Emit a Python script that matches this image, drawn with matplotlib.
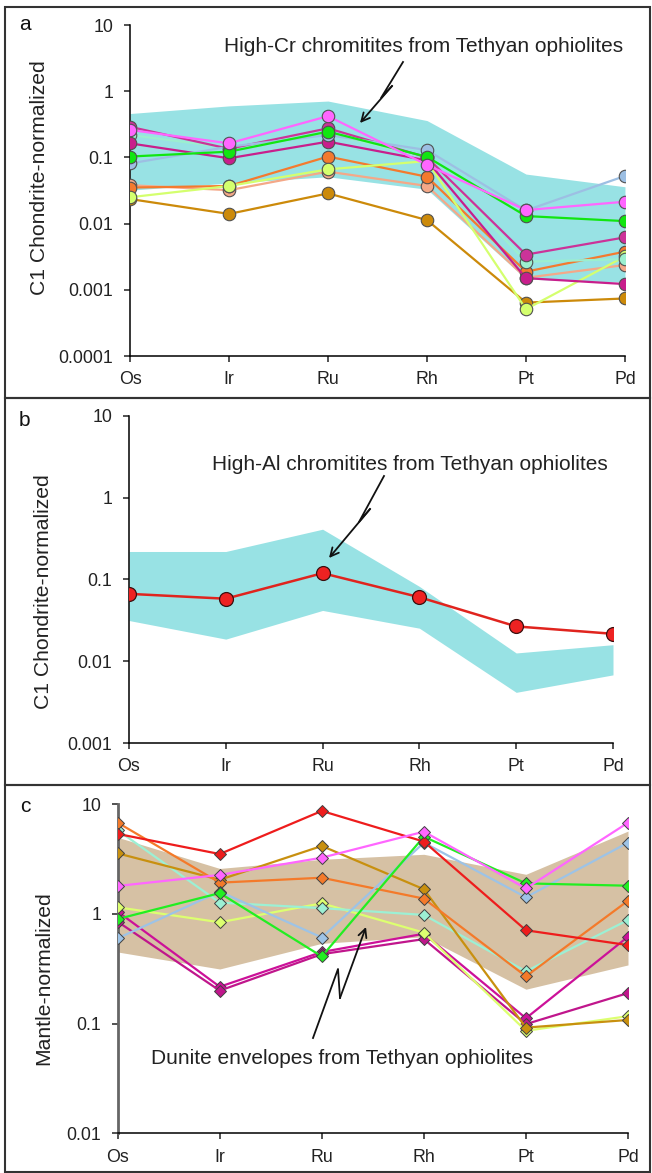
import matplotlib
matplotlib.use("Agg")
import matplotlib.pyplot as plt
from matplotlib.ticker import FixedLocator, NullLocator
from matplotlib.patches import Rectangle

plt.rcParams['font.family'] = ['Liberation Sans', 'DejaVu Sans']

elements = ['Os', 'Ir', 'Ru', 'Rh', 'Pt', 'Pd']

# panel a: high-Cr chromitites (C1 chondrite-normalized)
env_a_top = [0.46, 0.6, 0.71, 0.36, 0.056, 0.036]
env_a_bot = [0.032, 0.041, 0.051, 0.033, 0.00145, 0.0013]
gold_a = [0.0235, 0.014, 0.0286, 0.0113, 0.00064, 0.00074]
salmon_a = [0.038, 0.032, 0.061, 0.037, 0.00152, 0.00237]
orange_a = [0.035, 0.037, 0.103, 0.051, 0.00188, 0.00377]
yg_a = [0.025, 0.037, 0.066, 0.088, 0.00051, 0.0032]
mint_a = [0.218, 0.14, 0.23, 0.1, 0.00266, 0.0029]
magenta2_a = [0.163, 0.097, 0.173, 0.09, 0.0015, 0.00122]
magenta1_a = [0.29, 0.135, 0.275, 0.1, 0.0034, 0.0062]
blue_a = [0.081, 0.145, 0.218, 0.129, 0.0158, 0.0524]
green_a = [0.103, 0.122, 0.245, 0.102, 0.013, 0.0109]
pink_a = [0.26, 0.163, 0.42, 0.077, 0.016, 0.0214]

# panel b: high-Al chromitites
env_b_top = [0.219, 0.219, 0.41, 0.082, 0.0126, 0.0159]
env_b_bot = [0.0314, 0.0186, 0.0417, 0.0253, 0.00416, 0.0068]
red_b = [0.0665, 0.058, 0.119, 0.0605, 0.0266, 0.0216]

# panel c: dunite envelopes (mantle-normalized)
env_c_top = [5.0, 2.6, 3.15, 3.5, 2.3, 5.7]
env_c_bot = [0.45, 0.315, 0.54, 0.62, 0.206, 0.343]
magenta1_c = [1.05, 0.217, 0.45, 0.66, 0.112, 0.62]
magenta2_c = [0.85, 0.2, 0.43, 0.59, 0.099, 0.19]
yg_c = [1.15, 0.84, 1.25, 0.676, 0.086, 0.117]
mint_c = [5.8, 1.27, 1.13, 0.98, 0.3, 0.88]
gold_c = [3.57, 2.05, 4.17, 1.68, 0.092, 0.108]
orange_c = [6.8, 1.93, 2.14, 1.38, 0.27, 1.32]
blue_c = [0.6, 1.6, 0.61, 4.47, 1.42, 4.47]
green_c = [0.9, 1.55, 0.41, 5.07, 1.9, 1.81]
red_c = [5.37, 3.52, 8.7, 4.57, 0.71, 0.52]
pink_c = [1.8, 2.27, 3.26, 5.63, 1.71, 6.8]

ticks_a = [1e-4, 1e-3, 1e-2, 1e-1, 1, 10]
labels_a = ['0.0001', '0.001', '0.01', '0.1', '1', '10']
ticks_b = [1e-3, 1e-2, 1e-1, 1, 10]
labels_b = ['0.001', '0.01', '0.1', '1', '10']
ticks_c = [1e-2, 1e-1, 1, 10]
labels_c = ['0.01', '0.1', '1', '10']

W, H = 652, 1173
fig = plt.figure(figsize=(W / 100, H / 100), dpi=100)
fig.patch.set_facecolor('white')

def px_axes(left, right, top, bottom):
    return fig.add_axes([left / W, 1 - bottom / H, (right - left) / W, (bottom - top) / H])

def style(ax, ticks, labels, ymin):
    ax.set_yscale('log')
    ax.set_ylim(ymin, 10)
    ax.set_xlim(0, 5)
    ax.yaxis.set_major_locator(FixedLocator(ticks))
    ax.yaxis.set_minor_locator(NullLocator())
    ax.set_yticklabels(labels)
    ax.set_xticks(range(len(elements)))
    ax.set_xticklabels(elements)
    ax.spines['top'].set_visible(False)
    ax.spines['right'].set_visible(False)
    ax.spines['left'].set_linewidth(1.1)
    ax.spines['bottom'].set_linewidth(1.1)
    ax.tick_params(axis='y', direction='out', length=4, width=1.1, pad=8, labelsize=12.8, colors='#222')
    ax.tick_params(axis='x', direction='out', length=4, width=1.1, pad=7, labelsize=12.8, colors='#222')
    ax.patch.set_alpha(0)

x = list(range(len(elements)))

# ---- panel a
ax = px_axes(130, 625, 25, 356)
style(ax, ticks_a, labels_a, 1e-4)
ax.fill_between(x, env_a_bot, env_a_top, color='#98e2e4', lw=0, zorder=1)
series_a = [(gold_a, '#cc8a0a'), (salmon_a, '#f4a888'), (orange_a, '#f47a2e'), (yg_a, '#d4ff6e'),
            (mint_a, '#9cefcf'), (magenta2_a, '#c81e8c'), (magenta1_a, '#cc3399'),
            (blue_a, '#9dbfe3'), (green_a, '#11e611'), (pink_a, '#ff66ff')]
for vals, col in series_a:
    ax.plot(x, vals, color=col, lw=1.6, marker='o', ms=9, mfc=col, mec='#505050', mew=0.8, zorder=3)

# ---- panel b
ax = px_axes(129, 613, 415.7, 743)
style(ax, ticks_b, labels_b, 1e-3)
ax.fill_between(x, env_b_bot, env_b_top, color='#98e2e4', lw=0, zorder=1)
ax.plot(x, red_b, color='#e0241e', lw=1.8, marker='o', ms=10, mfc='#ee2222', mec='#3a1010', mew=0.9, zorder=3)

# ---- panel c
ax = px_axes(117.7, 628, 804.3, 1133.3)
style(ax, ticks_c, labels_c, 1e-2)
ax.spines['left'].set_color('#666666')
ax.spines['left'].set_linewidth(2)
ax.fill_between(x, env_c_bot, env_c_top, color='#d6c1a4', lw=0, zorder=1)
series_c = [(magenta1_c, '#cc1199'), (magenta2_c, '#c0168c'), (yg_c, '#ddff70'), (mint_c, '#9cf0d4'),
            (gold_c, '#c8900f'), (orange_c, '#f47a2a'), (blue_c, '#9dc3e6'), (green_c, '#22ee22'),
            (red_c, '#ee1c1c'), (pink_c, '#ff66ff')]
for vals, col in series_c:
    ax.plot(x, vals, color=col, lw=1.6, marker='D', ms=6, mfc=col, mec='#404040', mew=0.7, zorder=3)

# ---- overlay in pixel coordinates: boxes, labels, lightning arrows
ov = fig.add_axes([0, 0, 1, 1])
ov.set_xlim(0, W)
ov.set_ylim(H, 0)
ov.axis('off')
ov.patch.set_alpha(0)

for top, bot in [(7, 398), (398, 785), (785, 1172)]:
    ov.add_patch(Rectangle((5, top), 645, bot - top, fill=False, ec='#333333', lw=1.5))

ov.text(25, 24, 'a', fontsize=15, ha='center', va='center', color='#111')
ov.text(24, 420, 'b', fontsize=15, ha='center', va='center', color='#111')
ov.text(25, 806, 'c', fontsize=15, ha='center', va='center', color='#111')

ov.text(39.5, 178, 'C1 Chondrite-normalized', rotation=90, fontsize=15.2, ha='center', va='center', color='#222')
ov.text(43.7, 592, 'C1 Chondrite-normalized', rotation=90, fontsize=15.2, ha='center', va='center', color='#222')
ov.text(43.7, 978, 'Mantle-normalized', rotation=90, fontsize=15.2, ha='center', va='center', color='#222')

ov.text(424, 47, 'High-Cr chromitites from Tethyan ophiolites', fontsize=15, ha='center', va='center', color='#222')
ov.text(410, 465, 'High-Al chromitites from Tethyan ophiolites', fontsize=15, ha='center', va='center', color='#222')
ov.text(342, 1058, 'Dunite envelopes from Tethyan ophiolites', fontsize=15, ha='center', va='center', color='#222')

bolts = [[(403, 62), (381, 98), (392, 86), (360, 123)],
         [(384, 476), (359, 522), (370, 509), (329, 558)],
         [(313, 1038), (338, 969), (340, 998), (366, 927)]]
for pts in bolts:
    xs = [p[0] for p in pts[:3]]
    ys = [p[1] for p in pts[:3]]
    ov.plot(xs, ys, color='#111', lw=1.3)
    ov.annotate('', xy=pts[3], xytext=pts[2],
                arrowprops=dict(arrowstyle='->,head_length=0.6,head_width=0.3', color='#111', lw=1.3,
                                shrinkA=0, shrinkB=0))

fig.savefig('out.png', dpi=100)
